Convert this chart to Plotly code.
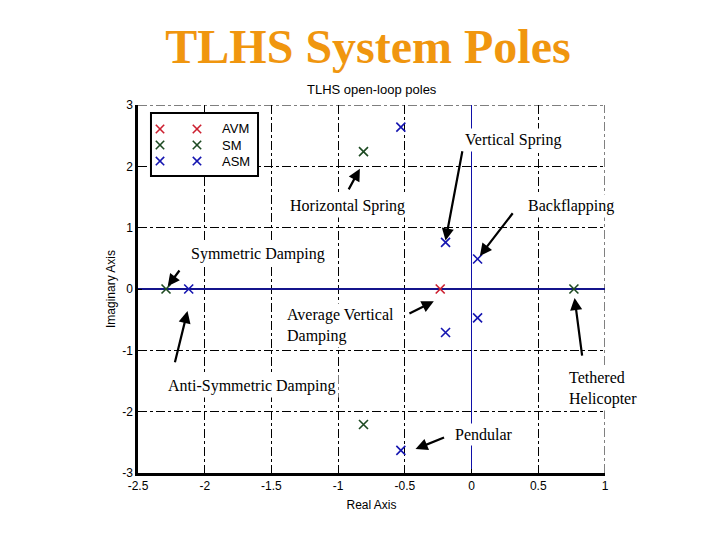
import plotly.graph_objects as go

# ---- data ----
avm_re = [-0.235]
avm_im = [0.0]

sm_re = [-0.81, -2.29, 0.767, -0.81]
sm_im = [2.24, 0.0, 0.0, -2.21]

asm_re = [-0.53, -0.195, 0.045, -2.12, 0.045, -0.195, -0.53]
asm_im = [2.64, 0.76, 0.49, 0.0, -0.47, -0.71, -2.63]

series_names = ["AVM", "SM", "ASM"]
series_colors = ["#cc1f2f", "#1d4a22", "#1515b0"]
series_x = [avm_re, sm_re, asm_re]
series_y = [avm_im, sm_im, asm_im]

x_ticks = [-2.5, -2, -1.5, -1, -0.5, 0, 0.5, 1]
x_tick_labels = ["-2.5", "-2", "-1.5", "-1", "-0.5", "0", "0.5", "1"]
y_ticks = [-3, -2, -1, 0, 1, 2, 3]
y_tick_labels = ["-3", "-2", "-1", "0", "1", "2", "3"]

serif = "Liberation Serif, Times New Roman, serif"
sans = "Liberation Sans, Arial, sans-serif"

fig = go.Figure()
for name, xs, ys, col in zip(series_names, series_x, series_y, series_colors):
    fig.add_trace(go.Scatter(
        x=xs, y=ys, mode="markers", name=name, showlegend=False,
        marker=dict(symbol="x-thin", size=9, line=dict(width=1.6, color=col), color=col),
    ))

# ---- MATLAB-style legend box (two marker columns + label) ----
fig.add_shape(type="rect", xref="paper", yref="paper",
              x0=0.0278, x1=0.257, y0=0.807, y1=0.978,
              line=dict(color="black", width=2), fillcolor="white", layer="above")
row_y = [0.9348, 0.8913, 0.8478]
hx, hy = 4.2 / 467, 4.2 / 368   # half-size of legend cross in paper units
for name, col, ry in zip(series_names, series_colors, row_y):
    for mx in (0.0471, 0.1263):
        fig.add_shape(type="line", xref="paper", yref="paper",
                      x0=mx - hx, x1=mx + hx, y0=ry - hy, y1=ry + hy,
                      line=dict(color=col, width=1.6), layer="above")
        fig.add_shape(type="line", xref="paper", yref="paper",
                      x0=mx - hx, x1=mx + hx, y0=ry + hy, y1=ry - hy,
                      line=dict(color=col, width=1.6), layer="above")
    fig.add_annotation(x=0.1756, y=ry, xref="paper", yref="paper", text=name,
                       showarrow=False, xanchor="left", yanchor="middle",
                       font=dict(family=sans, size=13, color="black"))

# text labels (positions in data units)
labels = [
    ("Vertical Spring", 0.307, 2.43, "center"),
    ("Horizontal Spring", -0.93, 1.354, "center"),
    ("Backflapping", 0.742, 1.354, "center"),
    ("Symmetric Damping", -1.604, 0.571, "center"),
    ("Average Vertical<br>Damping", -1.409, -0.587, "left"),
    ("Anti-Symmetric Damping", -1.649, -1.582, "center"),
    ("Tethered<br>Helicopter", 0.705, -1.615, "left"),
    ("Pendular", 0.09, -2.365, "center"),
]
for txt, x, y, al in labels:
    fig.add_annotation(
        x=x, y=y, xref="x", yref="y", text=txt, showarrow=False,
        xanchor=al if al == "left" else "center", align=al, yanchor="middle",
        font=dict(family=serif, size=16, color="black"),
        bgcolor="white", borderpad=2,
    )

# arrows: (tail_x, tail_y, head_x, head_y)
arrows = [
    (-0.067, 2.27, -0.195, 0.79),
    (-0.927, 1.60, -0.837, 1.96),
    (0.317, 1.26, 0.062, 0.54),
    (-2.181, 0.326, -2.277, 0.044),
    (-0.477, -0.41, -0.283, -0.20),
    (-2.226, -1.22, -2.129, -0.36),
    (0.83, -1.11, 0.772, -0.147),
    (-0.195, -2.41, -0.42, -2.61),
]
for tx, ty, ax_, ay_ in arrows:
    fig.add_annotation(
        x=ax_, y=ay_, ax=tx, ay=ty, xref="x", yref="y", axref="x", ayref="y",
        text="", showarrow=True, arrowhead=2, arrowsize=1.1, arrowwidth=2.2,
        arrowcolor="black", standoff=0,
    )

# top and right dash-dot grid lines (edge of the box)
fig.add_shape(type="line", xref="x", yref="y", x0=-2.5, x1=1, y0=3, y1=3,
              line=dict(color="black", width=1, dash="dashdot"), layer="below")
fig.add_shape(type="line", xref="x", yref="y", x0=1, x1=1, y0=-3, y1=3,
              line=dict(color="black", width=1, dash="dashdot"), layer="below")

fig.add_annotation(
    x=0.5, y=1.043, xref="paper", yref="paper", text="TLHS open-loop poles",
    showarrow=False, yanchor="middle", font=dict(family=sans, size=13, color="black"),
)

fig.update_layout(
    width=720, height=540,
    margin=dict(l=130, r=123, t=97, b=75),
    paper_bgcolor="white", plot_bgcolor="white",
    title=dict(text="<b>TLHS System Poles</b>", x=0.5, xanchor="center",
               y=1 - 38 / 540, yanchor="middle",
               font=dict(family=serif, size=48, color="#f0960f")),
    showlegend=False,
    xaxis=dict(range=[-2.5, 1], tickvals=x_ticks, ticktext=x_tick_labels,
               automargin=False,
               showgrid=True, gridcolor="black", gridwidth=1, griddash="dashdot",
               zeroline=True, zerolinecolor="#1010a8", zerolinewidth=1,
               showline=True, linecolor="black", linewidth=2.5,
               ticks="inside", ticklen=4, tickcolor="black",
               tickfont=dict(family=sans, size=12, color="black"),
               title=dict(text="Real Axis", font=dict(family=sans, size=12, color="black"), standoff=9)),
    yaxis=dict(range=[-3, 3], tickvals=y_ticks, ticktext=y_tick_labels,
               automargin=False,
               showgrid=True, gridcolor="black", gridwidth=1, griddash="dashdot",
               zeroline=True, zerolinecolor="#14148c", zerolinewidth=2.2,
               showline=True, linecolor="black", linewidth=2.5,
               ticks="inside", ticklen=4, tickcolor="black",
               tickfont=dict(family=sans, size=12, color="black"),
               title=dict(text="Imaginary Axis", font=dict(family=sans, size=12, color="black"), standoff=4)),
)

fig.write_html("out.html")
